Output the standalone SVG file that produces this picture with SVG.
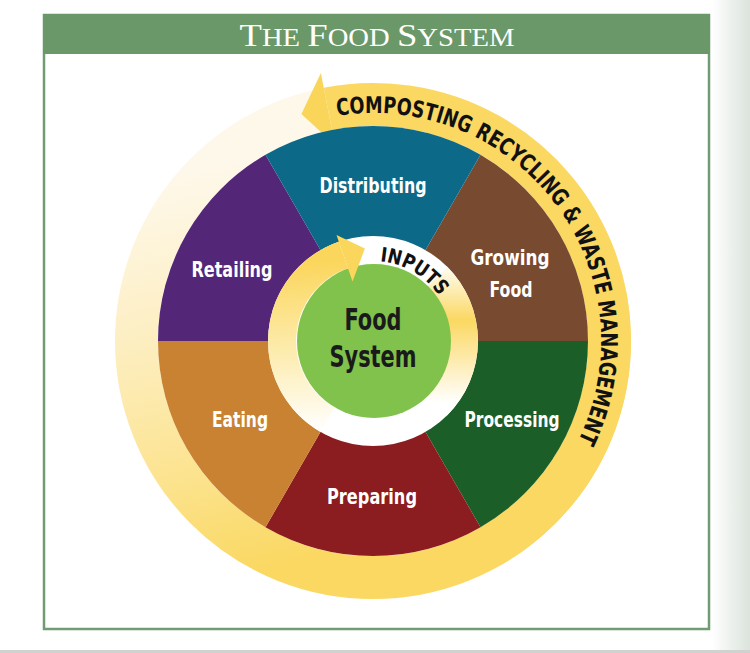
<svg xmlns="http://www.w3.org/2000/svg" width="750" height="653" viewBox="0 0 750 653">
<defs>
<style>
.lbl{font-family:"DejaVu Sans Condensed","DejaVu Sans","Liberation Sans",sans-serif;font-stretch:condensed;font-weight:bold;fill:#ffffff;text-anchor:middle;font-size:21px}
.arc{font-family:"DejaVu Sans Condensed","DejaVu Sans","Liberation Sans",sans-serif;font-stretch:condensed;font-weight:bold;fill:#111111}
.ctr{font-family:"DejaVu Sans Condensed","DejaVu Sans","Liberation Sans",sans-serif;font-stretch:condensed;font-weight:bold;fill:#1a1a1a;text-anchor:middle;font-size:30px}
.ttl{font-family:"Liberation Serif","Times New Roman",serif;fill:#ffffff}
</style>
<linearGradient id="side" x1="0" y1="0" x2="1" y2="0">
<stop offset="0" stop-color="#ffffff"/>
<stop offset="1" stop-color="#dbe3dc"/>
</linearGradient>
<linearGradient id="tail" gradientUnits="userSpaceOnUse" x1="300" y1="560" x2="200" y2="170">
<stop offset="0" stop-color="#fad862"/>
<stop offset="0.3" stop-color="#fce493"/>
<stop offset="0.65" stop-color="#fdefc4"/>
<stop offset="1" stop-color="#fef8ea"/>
</linearGradient>
<linearGradient id="inL" gradientUnits="userSpaceOnUse" x1="340" y1="430" x2="330" y2="260">
<stop offset="0" stop-color="#ffffff"/>
<stop offset="0.45" stop-color="#fdedb3"/>
<stop offset="1" stop-color="#fbd65c"/>
</linearGradient>
<linearGradient id="inR" gradientUnits="userSpaceOnUse" x1="460" y1="265" x2="460" y2="410">
<stop offset="0" stop-color="#fffdf6"/>
<stop offset="0.38" stop-color="#fbd862"/>
<stop offset="0.95" stop-color="#ffffff"/>
</linearGradient>
<path id="outerPath" d="M 337.3,115.8 A 228 228 0 0 1 547.7,487.6"/>
<path id="innerPath" d="M 380.0,261.3 A 80 80 0 0 1 448.2,313.6"/>
</defs>

<rect x="0" y="0" width="750" height="653" fill="#ffffff"/>
<rect x="712" y="0" width="38" height="651" fill="url(#side)"/>
<rect x="0" y="650" width="750" height="3" fill="#d0d2d0"/>

<g id="frame">
<rect x="44" y="15" width="665" height="614" fill="#ffffff" stroke="#6f9c72" stroke-width="2.5"/>
<rect x="43" y="14" width="667" height="40" fill="#6b9869"/>
<text class="ttl" x="377" y="46" text-anchor="middle" textLength="275" lengthAdjust="spacingAndGlyphs"><tspan font-size="32">T</tspan><tspan font-size="25">HE </tspan><tspan font-size="32">F</tspan><tspan font-size="25">OOD </tspan><tspan font-size="32">S</tspan><tspan font-size="25">YSTEM</tspan></text>
</g>

<g id="connectors">
<g id="outer-cycle">
<circle cx="373" cy="341" r="236.5" fill="none" stroke="url(#tail)" stroke-width="43"/>
<path d="M 327.9,108.8 A 236.5 236.5 0 0 1 491.25,545.8" fill="none" stroke="#fad862" stroke-width="43"/>
<polygon points="301.4,114 320.9,73 334.8,144.7" fill="#f9d55a"/>
</g>
</g>

<g id="growing">
<path d="M 373,341 L 480.5,154.8 A 215 215 0 0 1 588,341 Z" fill="#784a30"/>
<text class="lbl" x="510" y="265" textLength="79" lengthAdjust="spacingAndGlyphs">Growing</text>
<text class="lbl" x="511" y="297" textLength="43" lengthAdjust="spacingAndGlyphs">Food</text>
</g>
<g id="processing">
<path d="M 373,341 L 588,341 A 215 215 0 0 1 480.5,527.2 Z" fill="#1b5e27"/>
<text class="lbl" x="512" y="427" textLength="95" lengthAdjust="spacingAndGlyphs">Processing</text>
</g>
<g id="preparing">
<path d="M 373,341 L 480.5,527.2 A 215 215 0 0 1 265.5,527.2 Z" fill="#8b1c1f"/>
<text class="lbl" x="372" y="504" textLength="90" lengthAdjust="spacingAndGlyphs">Preparing</text>
</g>
<g id="eating">
<path d="M 373,341 L 265.5,527.2 A 215 215 0 0 1 158,341 Z" fill="#c88231"/>
<text class="lbl" x="240" y="427" textLength="56" lengthAdjust="spacingAndGlyphs">Eating</text>
</g>
<g id="retailing">
<path d="M 373,341 L 158,341 A 215 215 0 0 1 265.5,154.8 Z" fill="#532678"/>
<text class="lbl" x="232" y="277" textLength="81" lengthAdjust="spacingAndGlyphs">Retailing</text>
</g>
<g id="distributing">
<path d="M 373,341 L 265.5,154.8 A 215 215 0 0 1 480.5,154.8 Z" fill="#0d6988"/>
<text class="lbl" x="373" y="193" textLength="107" lengthAdjust="spacingAndGlyphs">Distributing</text>
</g>

<g id="outer-label">
<text class="arc" font-size="23"><textPath href="#outerPath" textLength="497" lengthAdjust="spacingAndGlyphs">COMPOSTING RECYCLING &amp; WASTE MANAGEMENT</textPath></text>
</g>

<g id="inputs">
<circle cx="373" cy="341" r="105" fill="#ffffff"/>
<path d="M 437.3,276.7 A 91 91 0 0 1 437.3,405.3" fill="none" stroke="url(#inR)" stroke-width="28"/>
<path d="M 327.5,419.8 A 91 91 0 0 1 343.4,255.0" fill="none" stroke="url(#inL)" stroke-width="28"/>
<text class="arc" font-size="20"><textPath href="#innerPath" textLength="71" lengthAdjust="spacingAndGlyphs">INPUTS</textPath></text>
</g>

<g id="food-system">
<circle cx="374" cy="341" r="77" fill="#80c24b"/>
<text class="ctr" x="373" y="330" textLength="57" lengthAdjust="spacingAndGlyphs">Food</text>
<text class="ctr" x="373" y="367" textLength="87" lengthAdjust="spacingAndGlyphs">System</text>
</g>

<g id="inputs-head">
<polygon points="364.9,248.4 336.5,235.1 352.5,281.4" fill="#fbd65c"/>
</g>
</svg>
